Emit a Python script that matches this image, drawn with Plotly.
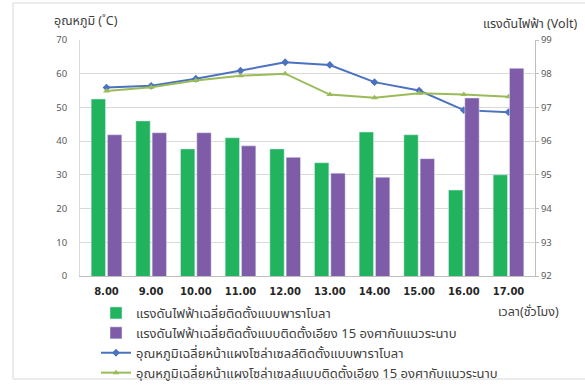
import plotly.graph_objects as go

# Hourly readings
times = ["8.00", "9.00", "10.00", "11.00", "12.00", "13.00", "14.00", "15.00", "16.00", "17.00"]
volt_parabola = [97.25, 96.6, 95.77, 96.1, 95.77, 95.36, 96.27, 96.19, 94.55, 95.0]
volt_tilt15 = [96.19, 96.25, 96.25, 95.86, 95.52, 95.05, 94.93, 95.48, 97.28, 98.16]
temp_parabola = [55.9, 56.4, 58.5, 60.9, 63.4, 62.6, 57.5, 55.0, 49.2, 48.6]
temp_tilt15 = [54.9, 56.0, 58.0, 59.4, 60.0, 53.8, 52.9, 54.2, 53.8, 53.2]

name_v1 = "แรงดันไฟฟ้าเฉลี่ยติดตั้งแบบพาราโบลา"
name_v2 = "แรงดันไฟฟ้าเฉลี่ยติดตั้งแบบติดตั้งเอียง 15 องศากับแนวระนาบ"
name_t1 = "อุณหภูมิเฉลี่ยหน้าแผงโซล่าเซลล์ติดตั้งแบบพาราโบลา"
name_t2 = "อุณหภูมิเฉลี่ยหน้าแผงโซล่าเซลล์แบบติดตั้งเอียง 15 องศากับแนวระนาบ"

FONT = "Tahoma, 'Leelawadee UI', 'Noto Sans Thai', 'Noto Sans', 'DejaVu Sans', sans-serif"
GREEN = "#22b35e"
PURPLE = "#7e5ca8"
BLUE = "#4a72c0"
OLIVE = "#9bbb59"

fig = go.Figure()
fig.add_trace(go.Bar(x=times, y=volt_parabola, name=name_v1, marker_color=GREEN, yaxis="y2"))
fig.add_trace(go.Bar(x=times, y=volt_tilt15, name=name_v2, marker_color=PURPLE, yaxis="y2"))
fig.add_trace(go.Scatter(x=times, y=temp_parabola, name=name_t1, mode="lines+markers",
                         line=dict(color=BLUE, width=2),
                         marker=dict(symbol="diamond", size=6, color=BLUE)))
fig.add_trace(go.Scatter(x=times, y=temp_tilt15, name=name_t2, mode="lines+markers",
                         line=dict(color=OLIVE, width=2),
                         marker=dict(symbol="triangle-up", size=6, color=OLIVE)))

L, R, T, B = 80, 50, 40, 111
W, H = 585, 387
pw = W - L - R
ph = H - T - B


def px(x):
    return (x - L) / pw


def py(y):
    return (H - B - y) / ph


fig.update_layout(
    width=W, height=H,
    margin=dict(l=L, r=R, t=T, b=B, autoexpand=False),
    paper_bgcolor="white", plot_bgcolor="white",
    font=dict(family=FONT, color="#404040"),
    barmode="group", bargap=0.27, bargroupgap=0.12,
    xaxis=dict(
        type="category", showgrid=False, showline=True, linecolor="#bfbfbf",
        ticks="outside", ticklen=6, tickcolor="rgba(0,0,0,0)",
        tickfont=dict(size=10, color="#262626", family="Tahoma, 'DejaVu Sans', sans-serif"),
        tickprefix="<b>", ticksuffix="</b>",
    ),
    yaxis=dict(
        range=[0, 70], dtick=10, showgrid=True, gridcolor="#d9d9d9",
        showline=True, linecolor="#d9d9d9", zeroline=False,
        ticks="outside", ticklen=10, tickcolor="rgba(0,0,0,0)",
        tickfont=dict(size=9.5, color="#595959"),
    ),
    yaxis2=dict(
        range=[92, 99], dtick=1, overlaying="y", side="right",
        showgrid=False, showline=True, linecolor="#bfbfbf", zeroline=False,
        ticks="outside", ticklen=3, tickcolor="#bfbfbf",
        tickfont=dict(size=9.5, color="#595959"),
    ),
    showlegend=True,
    legend=dict(
        x=px(96), y=py(298), xanchor="left", yanchor="top",
        font=dict(size=13, color="#404040"), bgcolor="rgba(0,0,0,0)",
        traceorder="normal", tracegroupgap=0, itemwidth=30,
    ),
    annotations=[
        dict(text="อุณหภูมิ (˚C)", x=px(52), y=py(21), xref="paper", yref="paper",
             xanchor="left", yanchor="middle", showarrow=False,
             font=dict(size=12.5, color="#404040")),
        dict(text="แรงดันไฟฟ้า (Volt)", x=px(481), y=py(25), xref="paper", yref="paper",
             xanchor="left", yanchor="middle", showarrow=False,
             font=dict(size=12.5, color="#404040")),
        dict(text="เวลา(ชั่วโมง)", x=px(496), y=py(312), xref="paper", yref="paper",
             xanchor="left", yanchor="middle", showarrow=False,
             font=dict(size=12.5, color="#404040")),
    ],
    shapes=[
        dict(type="rect", xref="paper", yref="paper",
             x0=px(13), x1=px(600), y0=py(379), y1=py(3),
             line=dict(color="#d9d9d9", width=1), layer="below"),
    ],
)

fig.write_html("out.html")
